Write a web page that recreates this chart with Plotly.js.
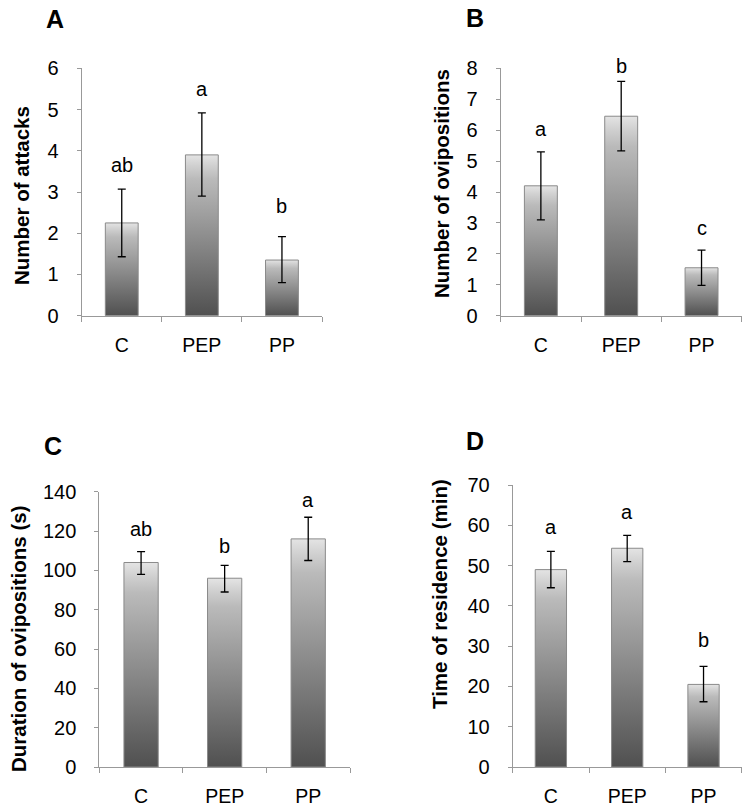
<!DOCTYPE html>
<html>
<head>
<meta charset="utf-8">
<script src="https://cdn.plot.ly/plotly-3.0.1.min.js"></script>
<style>html,body{margin:0;padding:0;background:#fff;}#chart{width:749px;height:809px;}</style>
</head>
<body>
<div id="chart"></div>
<script>
// ---- data ----
const categories = ["C", "PEP", "PP"];

const attacksMean  = [2.25, 3.9, 1.35];
const attacksLow   = [1.43, 2.9, 0.8];
const attacksHigh  = [3.07, 4.92, 1.92];
const attacksLetters = ["ab", "a", "b"];
const attacksLetterY = [3.66, 5.5, 2.66];

const ovipMean  = [4.2, 6.45, 1.55];
const ovipLow   = [3.1, 5.33, 0.98];
const ovipHigh  = [5.3, 7.58, 2.12];
const ovipLetters = ["a", "b", "c"];
const ovipLetterY = [6.04, 8.09, 2.85];

const durMean  = [104, 96, 116];
const durLow   = [98, 89, 105];
const durHigh  = [109.5, 102.5, 127];
const durLetters = ["ab", "b", "a"];
const durLetterY = [121, 112.6, 135.8];

const resMean  = [49, 54.3, 20.5];
const resLow   = [44.5, 51, 16.2];
const resHigh  = [53.5, 57.5, 25];
const resLetters = ["a", "a", "b"];
const resLetterY = [59.6, 63.4, 31.5];

const yMax = [6, 8, 140, 70];
const yStep = [1, 1, 20, 10];
const yTitles = ["Number of attacks", "Number of ovipositions", "Duration of ovipositions (s)", "Time of residence (min)"];
const panelLabels = ["A", "B", "C", "D"];

// ---- build ----
const FONT = "Liberation Sans, Arial, sans-serif";
const BARW = 0.41;
const panels = [
  {mean: attacksMean, low: attacksLow, high: attacksHigh, letters: attacksLetters, ly: attacksLetterY, xa: "x", ya: "y", max: yMax[0]},
  {mean: ovipMean, low: ovipLow, high: ovipHigh, letters: ovipLetters, ly: ovipLetterY, xa: "x2", ya: "y2", max: yMax[1]},
  {mean: durMean, low: durLow, high: durHigh, letters: durLetters, ly: durLetterY, xa: "x3", ya: "y3", max: yMax[2]},
  {mean: resMean, low: resLow, high: resHigh, letters: resLetters, ly: resLetterY, xa: "x4", ya: "y4", max: yMax[3]}
];

const traces = [];
const annotations = [];
panels.forEach(p => {
  p.mean.forEach((v, i) => {
    traces.push({
      type: "scatter", mode: "lines",
      x: [i - BARW/2, i - BARW/2, i + BARW/2, i + BARW/2, i - BARW/2],
      y: [0, v, v, 0, 0],
      fill: "toself",
      fillgradient: {type: "vertical", colorscale: [[0, "#505050"], [0.85, "#bababa"], [0.93, "#cfcfcf"], [1, "#e4e4e4"]]},
      line: {color: "#8a8a8a", width: 1},
      xaxis: p.xa, yaxis: p.ya, hoverinfo: "skip", showlegend: false
    });
  });
  traces.push({
    type: "scatter", mode: "markers",
    x: [0, 1, 2], y: p.mean,
    marker: {size: 1, opacity: 0},
    error_y: {
      type: "data", symmetric: false,
      array: p.high.map((h, i) => h - p.mean[i]),
      arrayminus: p.low.map((l, i) => p.mean[i] - l),
      color: "#000", thickness: 1.3, width: 4
    },
    xaxis: p.xa, yaxis: p.ya, hoverinfo: "skip", showlegend: false
  });
  // significance letters (domain-referenced so labels above the axis top stay visible)
  p.letters.forEach((t, i) => annotations.push({
    text: t, x: i, y: p.ly[i] / p.max, xref: p.xa, yref: p.ya + " domain",
    showarrow: false, xanchor: "center", yanchor: "middle",
    font: {family: FONT, size: 20, color: "#000"}
  }));
});

function xax(domain, anchor) {
  return {
    domain: domain, range: [-0.5, 2.5], fixedrange: true, anchor: anchor,
    tickmode: "array", tickvals: [0, 1, 2], ticktext: categories,
    ticks: "", ticklabelstandoff: 12,
    minor: {tickmode: "array", tickvals: [-0.5, 0.5, 1.5, 2.5], ticks: "outside", ticklen: 5, tickcolor: "#999", tickwidth: 1, showgrid: false},
    showline: true, linecolor: "#999", linewidth: 1,
    showgrid: false, zeroline: false,
    tickfont: {family: FONT, size: 19.5, color: "#000"}
  };
}
function yax(domain, max, dtick, anchor) {
  return {
    domain: domain, range: [0, max], fixedrange: true, anchor: anchor,
    tickmode: "linear", tick0: 0, dtick: dtick,
    ticks: "outside", ticklen: 4, tickcolor: "#999", tickwidth: 1,
    ticklabelstandoff: 14,
    showline: true, linecolor: "#999", linewidth: 1,
    showgrid: false, zeroline: false,
    tickfont: {family: FONT, size: 20, color: "#000"}
  };
}

const W = 749, H = 809;
const titlePos = [[22, 196], [442, 184], [18, 639], [439, 594]];
const labelPos = [[55, 19], [475, 18], [53, 446], [475, 441]];
yTitles.forEach((t, k) => annotations.push({
  text: t, x: titlePos[k][0]/W, y: 1 - titlePos[k][1]/H, textangle: -90,
  xref: "paper", yref: "paper", showarrow: false, xanchor: "center", yanchor: "middle",
  font: {family: FONT, size: 20.5, color: "#000", weight: "bold"}
}));
panelLabels.forEach((t, k) => annotations.push({
  text: t, x: labelPos[k][0]/W, y: 1 - labelPos[k][1]/H,
  xref: "paper", yref: "paper", showarrow: false, xanchor: "center", yanchor: "middle",
  font: {family: FONT, size: 25, color: "#000", weight: "bold"}
}));

const layout = {
  width: W, height: H,
  margin: {l: 0, r: 0, t: 0, b: 0},
  paper_bgcolor: "#fff", plot_bgcolor: "rgba(0,0,0,0)",
  showlegend: false,
  xaxis:  xax([81.7/W, 322/W], "y"),
  yaxis:  yax([1 - 315.7/H, 1 - 68.3/H], yMax[0], yStep[0], "x"),
  xaxis2: xax([500.7/W, 741.7/W], "y2"),
  yaxis2: yax([1 - 315.7/H, 1 - 68.3/H], yMax[1], yStep[1], "x2"),
  xaxis3: xax([99.3/W, 350/W], "y3"),
  yaxis3: yax([1 - 767/H, 1 - 491.7/H], yMax[2], yStep[2], "x3"),
  xaxis4: xax([512.7/W, 741.7/W], "y4"),
  yaxis4: yax([1 - 767/H, 1 - 485/H], yMax[3], yStep[3], "x4"),
  annotations: annotations
};

Plotly.newPlot("chart", traces, layout, {displayModeBar: false, staticPlot: true});
</script>
</body>
</html>
